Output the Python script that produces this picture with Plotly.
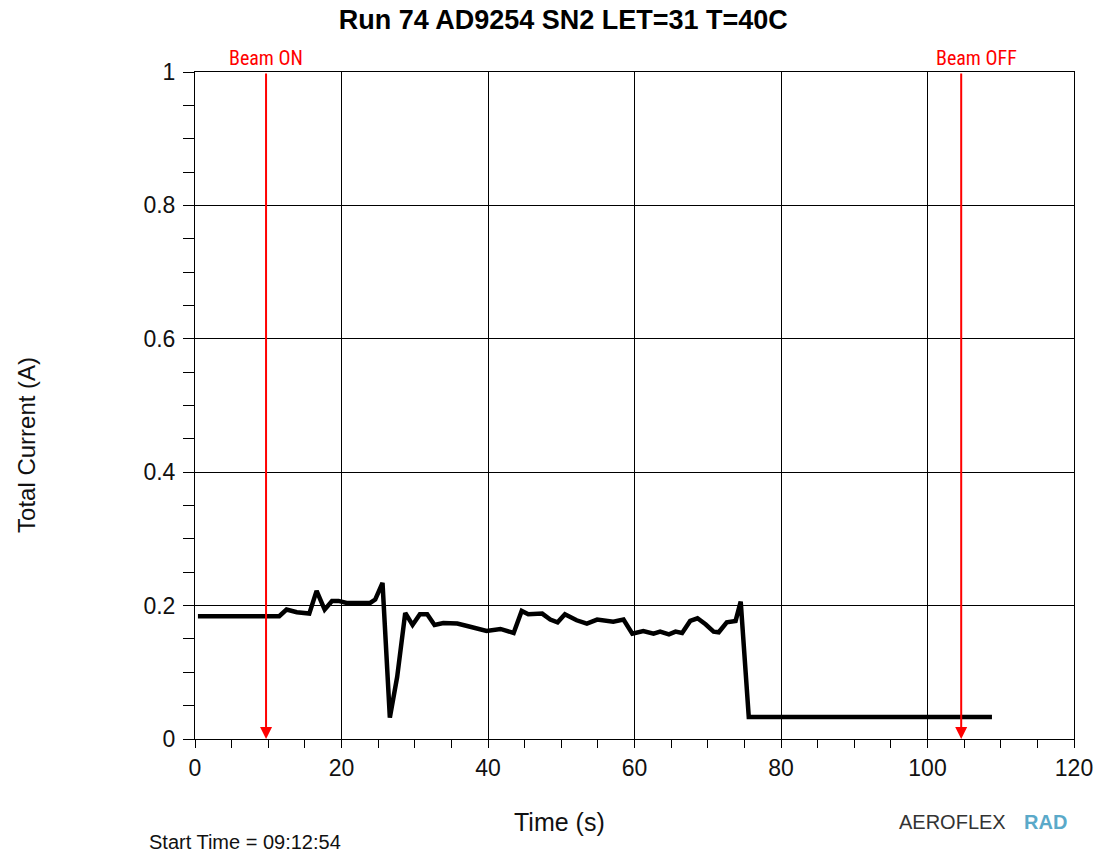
import plotly.graph_objects as go

# Data
time_s = [0.4, 11.5, 12.5, 13.9, 15.6, 16.6, 17.7, 18.7, 19.6, 20.7, 23.9, 24.6, 25.6,
          26.6, 27.6, 28.7, 29.7, 30.7, 31.7, 32.7, 33.9, 35.8, 37.3, 38.5, 39.8,
          41.7, 43.5, 44.6, 45.5, 47.4, 48.5, 49.5, 50.5, 52.1, 53.5, 54.9, 56.2,
          57.1, 58.5, 59.7, 61.2, 62.6, 63.5, 64.7, 65.6, 66.5, 67.6, 68.6, 69.7,
          70.8, 71.5, 72.6, 73.8, 74.5, 75.6, 108.8]
current_a = [0.184, 0.184, 0.194, 0.190, 0.188, 0.222, 0.194, 0.207, 0.207, 0.204, 0.204, 0.209, 0.234,
             0.032, 0.093, 0.189, 0.171, 0.187, 0.187, 0.171, 0.174, 0.173, 0.169, 0.166, 0.162,
             0.165, 0.159, 0.192, 0.187, 0.188, 0.179, 0.175, 0.187, 0.178, 0.173, 0.179, 0.178,
             0.176, 0.179, 0.158, 0.162, 0.158, 0.161, 0.157, 0.161, 0.159, 0.177, 0.181, 0.172,
             0.161, 0.160, 0.175, 0.177, 0.206, 0.033, 0.033]

beam_labels = ["Beam ON", "Beam OFF"]
beam_times = [9.7, 104.6]
beam_label_shift = [0, 15]

title_text = "Run 74 AD9254 SN2 LET=31 T=40C"
x_title = "Time (s)"
y_title = "Total Current (A)"
start_time = "Start Time = 09:12:54"

SANS = "Liberation Sans, Arial, sans-serif"
NARROW = "Liberation Sans Narrow, Arial Narrow, Roboto Condensed, DejaVu Sans Condensed, sans-serif"

fig = go.Figure()
fig.add_trace(go.Scatter(x=time_s, y=current_a, mode="lines",
                         line=dict(color="black", width=4.5), showlegend=False,
                         hoverinfo="x+y"))

for lbl, t, sh in zip(beam_labels, beam_times, beam_label_shift):
    fig.add_annotation(x=t, y=0, ax=t, ay=1, xref="x", yref="y", axref="x", ayref="y",
                       showarrow=True, arrowhead=2, arrowsize=1.2, arrowwidth=2,
                       arrowcolor="#ff0000", text="")
    fig.add_annotation(x=t, y=1, xref="x", yref="y", yshift=14, xshift=sh, text=lbl,
                       showarrow=False, font=dict(family=NARROW, size=20, color="#ff0000"))

# axis titles placed as in the reference
fig.add_annotation(xref="paper", yref="paper", x=-0.191, y=0.441, xanchor="center", yanchor="middle",
                   text=y_title, textangle=-90, showarrow=False,
                   font=dict(family=SANS, size=24, color="#111"))
fig.add_annotation(xref="paper", yref="paper", x=0.415, y=-0.1244, xanchor="center", yanchor="middle",
                   text=x_title, showarrow=False,
                   font=dict(family=SANS, size=25, color="#111"))

fig.add_annotation(xref="paper", yref="paper", x=-0.0546, y=-0.1544, xanchor="left", yanchor="middle",
                   text=start_time, showarrow=False,
                   font=dict(family=SANS, size=20, color="#111"))
fig.add_annotation(xref="paper", yref="paper", x=0.7986, y=-0.1244, xanchor="left", yanchor="middle",
                   text="AEROFLEX", showarrow=False,
                   font=dict(family=SANS, size=20, color="#333"))
fig.add_annotation(xref="paper", yref="paper", x=0.9408, y=-0.1244, xanchor="left", yanchor="middle",
                   text="<b>RAD</b>", showarrow=False,
                   font=dict(family=SANS, size=20, color="#5aa9c9"))

axis_common = dict(showline=True, linecolor="black", linewidth=1, mirror=True, automargin=False,
                   showgrid=True, gridcolor="black", gridwidth=1, zeroline=False,
                   ticks="outside", tickwidth=1, tickcolor="black",
                   tickfont=dict(family=SANS, size=23, color="#111"))

fig.update_xaxes(range=[0, 120], dtick=20, tick0=0, ticklen=8,
                 minor=dict(dtick=5, ticks="outside", ticklen=8, tickcolor="black", showgrid=False),
                 **axis_common)
fig.update_yaxes(range=[0, 1], dtick=0.2, tick0=0, ticklen=11, ticklabelstandoff=3,
                 minor=dict(dtick=0.05, ticks="outside", ticklen=11, tickcolor="black", showgrid=False),
                 **axis_common)

fig.update_layout(
    width=1098, height=854,
    margin=dict(l=195, r=24, t=72, b=115),
    paper_bgcolor="white", plot_bgcolor="white",
    title=dict(text="<b>" + title_text + "</b>", x=0.513, xanchor="center", y=0.9766, yanchor="middle",
               font=dict(family=SANS, size=27, color="black")),
)

fig.write_html("out.html")
